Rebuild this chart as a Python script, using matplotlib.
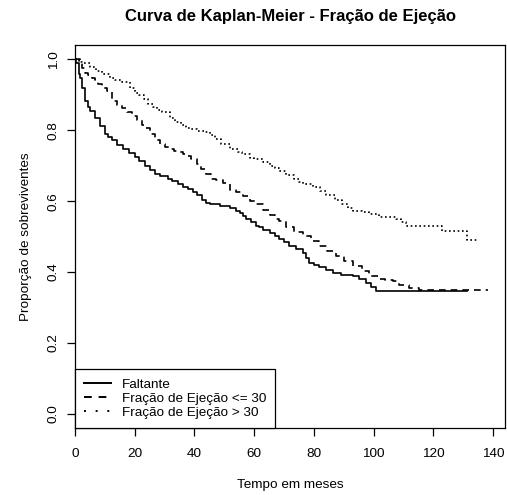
import numpy as np
import matplotlib
matplotlib.use("Agg")
from matplotlib import pyplot as plt
from matplotlib.lines import Line2D

plt.rcParams['font.family'] = ['Liberation Sans', 'DejaVu Sans']

# Kaplan-Meier step values (time in months, survival)
t_falt = [0, 0.3, 1.2, 1.7, 2.3, 3.4, 4.2, 5.1, 6.8, 8.5, 10.1, 11.2, 12.4, 14, 16, 18,
          20, 21.5, 23.4, 25, 26.7, 28.5, 31.2, 32.5, 34.5, 36.2, 37.9, 39.5, 40.7, 42.5,
          44, 45.1, 48.4, 51.8, 54, 55.1, 56.2, 57.4, 59, 60.7, 61.8, 62.9, 65.2, 67,
          68.5, 70, 71.8, 74, 76.3, 77.5, 78.5, 80, 81.9, 84, 86.3, 89, 93, 95, 97.5, 99,
          100.8, 131.4]
s_falt = [1.0, 0.99, 0.958, 0.946, 0.92, 0.882, 0.866, 0.854, 0.835, 0.811, 0.788, 0.78,
          0.771, 0.759, 0.748, 0.735, 0.724, 0.712, 0.70, 0.688, 0.677, 0.67, 0.663,
          0.657, 0.649, 0.64, 0.635, 0.627, 0.616, 0.603, 0.594, 0.592, 0.586, 0.581,
          0.573, 0.566, 0.557, 0.55, 0.54, 0.531, 0.526, 0.518, 0.51, 0.502, 0.493,
          0.484, 0.474, 0.465, 0.455, 0.44, 0.427, 0.42, 0.413, 0.405, 0.397, 0.393,
          0.389, 0.38, 0.37, 0.358, 0.346, 0.346]

t_ef30 = [0, 1.2, 2.3, 3.3, 4.5, 5.7, 6.7, 7.8, 9, 10.6, 12.4, 14, 15.7, 17.3, 19, 20.6,
          22.4, 23.4, 25, 26.7, 28.3, 30, 31.7, 33, 34.5, 36.2, 37.5, 39, 40.7, 42.3, 44,
          45.7, 47.3, 49.5, 51.8, 54, 56.2, 58.5, 60.7, 63, 65.2, 67, 68.5, 70.7, 73.5,
          76.3, 79, 81.9, 84.5, 87.4, 90, 93, 96, 98.6, 101.9, 104, 106.4, 108.6, 112,
          115.3, 138.5]
s_ef30 = [1.0, 0.995, 0.976, 0.962, 0.955, 0.948, 0.941, 0.93, 0.92, 0.91, 0.882, 0.872,
          0.863, 0.851, 0.84, 0.829, 0.816, 0.805, 0.788, 0.771, 0.76, 0.752, 0.747,
          0.742, 0.738, 0.732, 0.727, 0.72, 0.705, 0.691, 0.677, 0.663, 0.66, 0.65,
          0.632, 0.625, 0.615, 0.60, 0.592, 0.575, 0.56, 0.55, 0.543, 0.528, 0.514,
          0.502, 0.488, 0.474, 0.46, 0.446, 0.432, 0.417, 0.403, 0.389, 0.381, 0.378,
          0.375, 0.363, 0.356, 0.349, 0.349]

t_ef_gt30 = [0, 1.7, 2.3, 5, 7, 9, 11.7, 13.5, 15.7, 18.4, 20, 21.3, 23, 24.5, 26.2,
             27.5, 29, 31.7, 33.4, 35.5, 37.3, 39, 41, 43.4, 45.1, 46.8, 49, 51.8, 54.5,
             56, 58.5, 60, 62.9, 65.2, 67, 68.5, 70.7, 73.5, 75.2, 76.3, 79.6, 82, 84.1,
             87, 89.6, 91.5, 93, 96, 98.6, 101.9, 104.1, 107.5, 109.1, 110.8, 123, 131.4,
             135.1]
s_ef_gt30 = [1.0, 0.993, 0.99, 0.979, 0.966, 0.958, 0.946, 0.942, 0.935, 0.918, 0.905,
             0.899, 0.887, 0.875, 0.866, 0.858, 0.852, 0.833, 0.823, 0.815, 0.807,
             0.803, 0.798, 0.795, 0.786, 0.776, 0.762, 0.748, 0.738, 0.732, 0.722,
             0.718, 0.71, 0.70, 0.692, 0.686, 0.673, 0.661, 0.653, 0.649, 0.639, 0.628,
             0.616, 0.604, 0.592, 0.582, 0.573, 0.568, 0.564, 0.556, 0.554, 0.551,
             0.542, 0.531, 0.516, 0.49, 0.49]

legend_labels = ['Faltante', 'Fração de Ejeção <= 30', 'Fração de Ejeção > 30']

fig = plt.figure(figsize=(5.07, 4.95), dpi=100)
ax = fig.add_axes([0.148, 0.135, 0.848, 0.774])

ax.step(t_falt, s_falt, where='post', color='black', lw=1.2)
ax.step(t_ef30, s_ef30, where='post', color='black', lw=1.2, dashes=(4, 3))
ax.step(t_ef_gt30, s_ef_gt30, where='post', color='black', lw=1.2, dashes=(1, 1.6))

ax.set_xlim(0, 138.5 * 1.04)
ax.set_ylim(-0.04, 1.04)
ax.set_xticks(np.arange(0, 141, 20))
ax.set_yticks(np.arange(0, 1.01, 0.2))
ax.set_yticklabels(['0.0', '0.2', '0.4', '0.6', '0.8', '1.0'], rotation=90, va='center')
ax.tick_params(direction='out', length=6, width=0.9, labelsize=9.7, colors='black')
ax.tick_params(axis='x', pad=8)
ax.tick_params(axis='y', pad=5)
for sp in ax.spines.values():
    sp.set_linewidth(0.9)

ax.set_xlabel('Tempo em meses', fontsize=9.7, labelpad=14)
ax.set_ylabel('Proporção de sobreviventes', fontsize=9.7, labelpad=11)
ax.set_title('Curva de Kaplan-Meier - Fração de Ejeção', fontsize=12,
             fontweight='bold', pad=17)

handles = [Line2D([], [], color='black', lw=1.4),
           Line2D([], [], color='black', lw=1.4, dashes=(4, 3.5)),
           Line2D([], [], color='black', lw=1.4, dashes=(1, 5))]
leg = ax.legend(handles, legend_labels, loc='lower left', bbox_to_anchor=(0, 0),
                borderaxespad=0, fancybox=False, framealpha=1, edgecolor='black',
                fontsize=9.7, handlelength=2.0, handletextpad=0.75, borderpad=0.7,
                labelspacing=0.12)
leg.get_frame().set_linewidth(0.9)

fig.savefig('out.png', dpi=100)
